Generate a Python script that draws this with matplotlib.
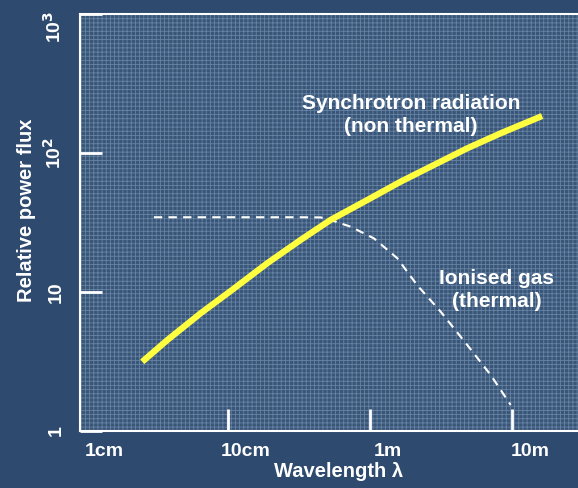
import matplotlib
matplotlib.use('Agg')
import matplotlib.pyplot as plt
import matplotlib.transforms as mtransforms
from matplotlib.patches import Rectangle

plt.rcParams['font.family'] = ['Liberation Sans', 'DejaVu Sans']
plt.rcParams['font.weight'] = 'bold'
plt.rcParams['mathtext.default'] = 'bf'
plt.rcParams['hatch.linewidth'] = 0.6

# synchrotron radiation (non thermal), wavelength in m
sync_wl = [0.0249, 0.0374, 0.0642, 0.1103, 0.189, 0.325, 0.528, 0.957, 1.645,
           2.82, 4.84, 8.32, 16.3]
sync_flux = [3.15, 4.51, 7.03, 10.6, 16.1, 23.7, 33.0, 45.9, 62.2,
             82.0, 108.1, 138.6, 184.6]

# ionised gas (thermal)
gas_wl = [0.0301, 0.325, 0.45, 0.528, 0.731, 1.067, 1.557, 2.15, 3.15,
          4.84, 7.08, 9.79]
gas_flux = [34.5, 34.5, 34.4, 33.0, 29.5, 24.3, 17.5, 11.2, 7.21,
            4.16, 2.53, 1.54]

xtick_vals = [0.01, 0.1, 1, 10]
xtick_labels = ['1cm', '10cm', '1m', '10m']
ytick_vals = [1, 10, 100, 1000]
ytick_labels = ['1', '10', '10$^2$', '10$^3$']

bg = '#2e4a6e'
fig = plt.figure(figsize=(5.78, 4.88), dpi=100, facecolor=bg)
ax = fig.add_axes([80/578, 57/488, 1 - 80/578, 417/488])
ax.set_facecolor('#395679')
ax.add_patch(Rectangle((0, 0), 1, 1, transform=ax.transAxes, facecolor='none',
                       edgecolor='#6683a4', hatch='++++', lw=0, zorder=0))

ax.plot(sync_wl, sync_flux, color='#ffff40', lw=4.5, solid_capstyle='butt', zorder=3)
ax.plot(gas_wl, gas_flux, color='white', lw=1.5, ls=(0, (4, 3)), zorder=2)

ax.set_xscale('log')
ax.set_yscale('log')
ax.set_xlim(10 ** -2.042, 10 ** 1.465)
ax.set_ylim(1, 1000)
ax.set_xticks(xtick_vals)
ax.set_xticklabels(xtick_labels)
ax.set_yticks(ytick_vals)
ax.set_yticklabels(ytick_labels, rotation=90, va='center')
ax.minorticks_off()
ax.tick_params(direction='in', length=16, width=2, color='white',
               labelcolor='white', labelsize=14, pad=9)
ax.tick_params(axis='y', pad=11)
ax.xaxis.get_major_ticks()[0].tick1line.set_visible(False)
shift = mtransforms.ScaledTranslation(18 / 100, 0, fig.dpi_scale_trans)
for lab in ax.get_xticklabels():
    lab.set_transform(lab.get_transform() + shift)
# top label sits a little lower than the axis edge
top_lab = ax.get_yticklabels()[-1]
top_lab.set_transform(top_lab.get_transform()
                      + mtransforms.ScaledTranslation(0, -13 / 100, fig.dpi_scale_trans))

for s in ['left', 'bottom', 'top']:
    ax.spines[s].set_color('white')
    ax.spines[s].set_linewidth(1.5)
ax.spines['right'].set_visible(False)

ax.set_xlabel('Wavelength λ', color='white', fontsize=14.5, fontweight='bold')
ax.set_ylabel('Relative power flux', color='white', fontsize=14.5, fontweight='bold')
ax.xaxis.set_label_coords(0.52, -0.074)
ax.yaxis.set_label_coords(-0.088, 0.53)

ax.text(0.665, 0.758, 'Synchrotron radiation\n(non thermal)', transform=ax.transAxes,
        color='white', fontsize=15, ha='center', va='center', linespacing=1.3)
ax.text(0.837, 0.338, 'Ionised gas\n(thermal)', transform=ax.transAxes,
        color='white', fontsize=15, ha='center', va='center', linespacing=1.3)

fig.savefig('out.png', dpi=100, facecolor=bg)
